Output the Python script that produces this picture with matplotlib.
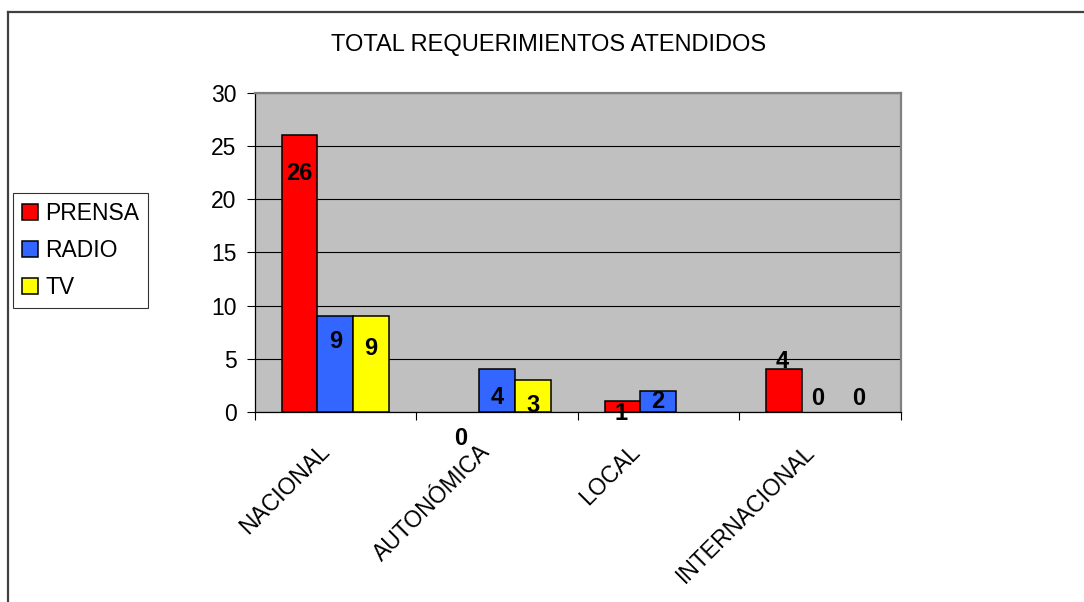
import matplotlib
matplotlib.use("Agg")
import matplotlib.pyplot as plt
import matplotlib.transforms as mtransforms
from matplotlib.lines import Line2D
from matplotlib.patches import Patch
import numpy as np

plt.rcParams['font.family'] = ['Liberation Sans', 'DejaVu Sans']

# requerimientos por ambito y medio
ambitos = ['NACIONAL', 'AUTONÓMICA', 'LOCAL', 'INTERNACIONAL']
medios = ['PRENSA', 'RADIO', 'TV']
prensa = [26, 0, 1, 4]
radio = [9, 4, 2, 0]
tv = [9, 3, 0, 0]
# LOCAL/TV sin etiqueta en el grafico original
mostrar_tv = [True, True, False, True]

colores = ['#FF0000', '#3366FF', '#FFFF00']
titulo = 'TOTAL REQUERIMIENTOS ATENDIDOS'


def main():
    fig = plt.figure(figsize=(10.84, 6.02), dpi=100)
    ax = fig.add_axes([0.2348, 0.3156, 0.5961, 0.5304])
    ax.set_facecolor('#C0C0C0')

    x = np.arange(len(ambitos))
    w = 0.222
    series = [prensa, radio, tv]
    for k, (vals, col) in enumerate(zip(series, colores)):
        lw = [1.1 if v > 0 else 0 for v in vals]
        ax.bar(x + (k - 1) * w, vals, w, color=col, edgecolor='black',
               linewidth=lw, zorder=3)

    # etiquetas de valor (desplazamientos en pixeles, como en excel)
    offs = {
        0: [(0, -38), (0, -25), (0, -32)],
        1: [(0, -26), (0, -28), (0, -25)],
        2: [(-1, -12), (-1, -11), (0, 0)],
        3: [(-2, 8), (-2, 14), (3, 14)],
    }
    for i in range(len(ambitos)):
        for k, vals in enumerate(series):
            if k == 2 and not mostrar_tv[i]:
                continue
            dx, dy = offs[i][k]
            ax.annotate(str(vals[i]), xy=(x[i] + (k - 1) * w, vals[i]),
                        xytext=(dx, dy), textcoords='offset pixels',
                        ha='center', va='center', fontsize=17,
                        fontweight='bold', zorder=5, annotation_clip=False)

    ax.set_xlim(-0.5, len(ambitos) - 0.5)
    ax.set_ylim(0, 30)
    ax.set_yticks(range(0, 31, 5))
    ax.yaxis.grid(True, color='black', linewidth=0.8, zorder=1)
    ax.set_axisbelow(True)
    ax.tick_params(axis='y', direction='out', length=5.8, width=0.8,
                   pad=7, labelsize=16.5)

    # marcas entre categorias, etiquetas en el centro
    ax.set_xticks(np.arange(len(ambitos) + 1) - 0.5)
    ax.set_xticklabels([])
    ax.tick_params(axis='x', which='major', direction='out', length=6,
                   width=0.8)
    ax.set_xticks(x, minor=True)
    ax.set_xticklabels(ambitos, minor=True, rotation=45, ha='right',
                       va='top', rotation_mode='anchor', fontsize=16.5)
    ax.tick_params(axis='x', which='minor', length=0, pad=20)
    desplaz = [-17, -18, -30, -17]
    for lab, d in zip(ax.get_xticklabels(minor=True), desplaz):
        lab.set_transform(lab.get_transform() +
                          mtransforms.ScaledTranslation(d / 100, 0, fig.dpi_scale_trans))

    for s in ['left', 'bottom']:
        ax.spines[s].set_color('black')
        ax.spines[s].set_linewidth(0.9)
    for s in ['top', 'right']:
        ax.spines[s].set_color('#808080')
        ax.spines[s].set_linewidth(1.6)

    fig.text(0.506, 0.926, titulo, ha='center', va='center', fontsize=17)

    handles = [Patch(facecolor=c, edgecolor='black', linewidth=1.1) for c in colores]
    leg = fig.legend(handles, medios, loc='upper left',
                     bbox_to_anchor=(13 / 1084, 1 - 193 / 602),
                     fontsize=16.5, frameon=True, fancybox=False,
                     handlelength=0.7, handleheight=0.7, handletextpad=0.3,
                     labelspacing=0.6, borderpad=0.4, borderaxespad=0)
    leg.get_frame().set_edgecolor('black')
    leg.get_frame().set_linewidth(0.8)

    # marco del area del grafico
    fig.add_artist(Line2D([8 / 1084, 8 / 1084], [0, 1 - 12 / 602],
                          color='#404040', linewidth=1.6))
    fig.add_artist(Line2D([8 / 1084, 1], [1 - 12 / 602, 1 - 12 / 602],
                          color='#404040', linewidth=1.6))

    fig.savefig('out.png', dpi=100)


if __name__ == "__main__":
    main()
